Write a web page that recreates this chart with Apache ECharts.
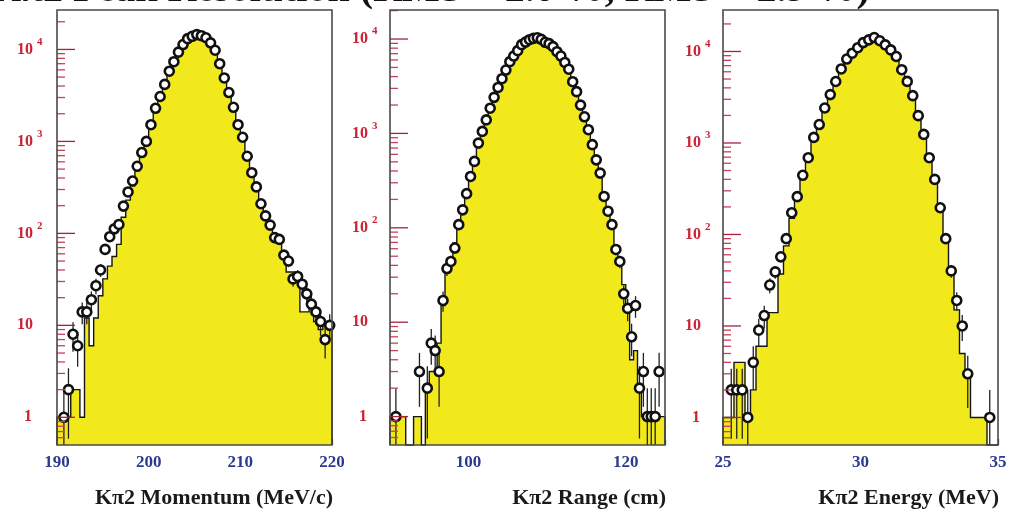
<!DOCTYPE html>
<html><head><meta charset="utf-8">
<script src="https://cdn.jsdelivr.net/npm/echarts@6/dist/echarts.min.js"></script>
<style>html,body{margin:0;padding:0;background:#fff;overflow:hidden}#c{width:1010px;height:512px}</style>
</head><body><div id="c"></div>
<script>
// ---- data ----
const momBinStart = 190, momBinWidth = 0.5;
const momData = [0,1,2,8,6,14,14,19,27,40, 67,92,112,125,198,282,371,537,757,1000, 1520,2290,3080,4170,5800,7360,9350,11300,13100,13900, 14500,14100,13400,11800,9800,7000,4900,3400,2350,1520, 1110,690,457,320,210,155,123,90,86,58, 50,32,34,28,22,17,14,11,7,10];
const momMC = [1,1,1,2,2,1,12,6,12,21, 32,44,56,76,150,230,330,480,700,950, 1400,2100,2900,3900,5400,7000,9000,11000,12600,13500, 13800,13600,12800,11300,9400,7000,5000,3500,2400,1600, 1100,720,470,320,215,160,120,92,80,60, 38,38,35,14,14,17,11,9,10,10];

const rangeBinStart = 90, rangeBinWidth = 0.5;
const rangeData = [0,1,0,0,0,0,0,3,0,2, 6,5,3,17,37,44,61,108,155,230, 350,505,790,1050,1390,1850,2410,3070,3800,4690, 5760,6600,7530,8720,9290,9840,10160,10330,9920,9230, 8930,8300,7340,6600,5650,4790,3530,2770,1995,1500, 1095,760,525,380,215,150,108,59,44,20, 14,7,15,2,3,1,1,1,3,0];
const rangeMC = [1,1,1,1,0,0,1,1,0,2, 3,3,6,15,33,45,69,100,150,230, 340,500,760,1050,1400,1850,2400,3050,3800,4650, 5600,6500,7400,8300,9000,9500,9800,9900,9700,9300, 8800,8100,7300,6400,5500,4600,3600,2750,2000,1480, 1050,740,510,350,220,150,100,62,40,25, 13,4,5,2,1,1,1,1,1,1];

const energyBinStart = 25, energyBinWidth = 0.2;
const energyData = [0,2,2,2,1,4,9,13,28,39, 57,90,173,259,443,690,1150,1590,2410,3380, 4700,6440,8260,9570,11000,12500,13400,14200,13100,11800, 10400,8810,6320,4710,3290,1990,1240,690,400,196, 90,40,19,10,3,0,0,0,1,0];
const energyMC = [1,1,4,4,1,2,6,6,14,14, 37,75,150,240,420,680,1100,1580,2400,3400, 4700,6400,8200,9700,11200,12500,13300,13600,13000,11800, 10300,8600,6500,4700,3300,2050,1250,720,400,200, 95,37,15,5,3,1,1,1,0,0];

const momTickLabels = [190, 200, 210, 220];
const rangeTickLabels = [100, 120];
const energyTickLabels = [25, 30, 35];
const axisTitles = ['K\u03c02 Momentum (MeV/c)', 'K\u03c02 Range (cm)', 'K\u03c02 Energy (MeV)'];
const topTitle = 'K\u03c02 Peak Resolution (RMS = 2.0 %, RMS = 2.9 %)';

// ---- layout / style ----
const panels = [
  {start: momBinStart, width: momBinWidth, data: momData, mc: momMC, xmin: 190, xmax: 220, xint: 10, minorSplit: 5, labels: momTickLabels, ymax: 26850, left: 57, labMargin: 40},
  {start: rangeBinStart, width: rangeBinWidth, data: rangeData, mc: rangeMC, xmin: 90, xmax: 125, xint: 5, minorSplit: 0, labels: rangeTickLabels, ymax: 20300, left: 390, labMargin: 38},
  {start: energyBinStart, width: energyBinWidth, data: energyData, mc: energyMC, xmin: 25, xmax: 35, xint: 5, minorSplit: 5, labels: energyTickLabels, ymax: 28400, left: 723, labMargin: 38}
];
const YMIN = 0.5, TOP = 10, W = 275, H = 435;
const SERIF = '"Liberation Serif","DejaVu Serif",serif';
const RED = '#cc2236', BLUE = '#2b3a8f', YELLOW = '#f2e91d';

const grids = [], xAxes = [], yAxes = [], series = [];
panels.forEach((p, i) => {
  grids.push({left: p.left, top: TOP, width: W, height: H, containLabel: false});
  xAxes.push({
    type: 'value', gridIndex: i, min: p.xmin, max: p.xmax, interval: p.xint,
    axisLine: {show: false}, splitLine: {show: false},
    axisTick: {show: true, inside: true, length: p.minorSplit ? 6 : 5, lineStyle: {color: '#1a1f4a', width: 1.2}},
    minorTick: {show: p.minorSplit > 0, splitNumber: p.minorSplit || 5, length: 3.5, lineStyle: {color: '#1a1f4a', width: 1.1}},
    axisLabel: {
      margin: 9, color: BLUE, fontFamily: SERIF, fontWeight: 'bold', fontSize: 17,
      formatter: v => p.labels.some(l => Math.abs(l - v) < 1e-9) ? String(Math.round(v)) : '',
      showMinLabel: true, showMaxLabel: true, hideOverlap: false
    }
  });
  yAxes.push({
    type: 'log', logBase: 10, gridIndex: i, min: YMIN, max: p.ymax,
    axisLine: {show: false}, splitLine: {show: false}, axisTick: {show: false}, minorTick: {show: false},
    axisLabel: {
      align: 'left', margin: p.labMargin, hideOverlap: false,
      formatter: v => {
        const l = Math.log10(v), e = Math.round(l);
        if (Math.abs(l - e) > 1e-6 || e < 0) return '';
        if (e === 0) return '{one|1}';
        if (e === 1) return '{b|10}';
        return '{b|10 }{s|' + e + '}';
      },
      rich: {
        b: {fontFamily: SERIF, fontWeight: 'bold', fontSize: 16, color: RED, lineHeight: 26},
        one: {fontFamily: SERIF, fontWeight: 'bold', fontSize: 16, color: RED, lineHeight: 26, padding: [0, 0, 0, 7]},
        s: {fontFamily: SERIF, fontWeight: 'bold', fontSize: 11, color: RED, lineHeight: 12, verticalAlign: 'top'}
      }
    }
  });

  const xEnd = p.start + p.width * p.mc.length;
  // histogram (MC) as filled step polygon
  series.push({
    type: 'custom', xAxisIndex: i, yAxisIndex: i, z: 1, silent: true,
    data: [[p.start, YMIN]],
    renderItem: (params, api) => {
      const pts = [api.coord([p.start, YMIN])];
      p.mc.forEach((v, k) => {
        const lo = p.start + k * p.width, hi = lo + p.width;
        const y = v > 0 ? v : YMIN;
        pts.push(api.coord([lo, y]));
        pts.push(api.coord([hi, y]));
      });
      pts.push(api.coord([xEnd, YMIN]));
      return {type: 'group', children: [
        {type: 'polygon', shape: {points: pts}, style: {fill: YELLOW, stroke: null}},
        {type: 'polyline', shape: {points: pts}, style: {fill: null, stroke: '#151515', lineWidth: 1.4}}
      ]};
    }
  });
  // data points
  const pts = [];
  p.data.forEach((v, k) => { if (v > 0) pts.push([p.start + (k + 0.5) * p.width, v]); });
  // error bars (Poisson)
  series.push({
    type: 'custom', xAxisIndex: i, yAxisIndex: i, z: 3, silent: true, data: pts,
    renderItem: (params, api) => {
      const x = api.value(0), n = api.value(1), e = Math.sqrt(n);
      const a = api.coord([x, Math.max(n - e, YMIN)]), b = api.coord([x, Math.min(n + e, p.ymax)]);
      return {type: 'line', shape: {x1: a[0], y1: a[1], x2: b[0], y2: b[1]}, style: {stroke: '#222', lineWidth: 1.3}};
    }
  });
  series.push({
    type: 'scatter', xAxisIndex: i, yAxisIndex: i, z: 4, silent: true, data: pts,
    symbol: 'circle', symbolSize: 9,
    itemStyle: {color: '#ffffff', borderColor: '#111111', borderWidth: 2.6, opacity: 1}
  });
  // log-axis ticks (decades and 2..9 subdivisions)
  const ticks = [];
  for (let d = -1; d <= 5; d++) for (let m = 1; m <= 9; m++) {
    const v = m * Math.pow(10, d);
    if (v > YMIN * 1.0001 && v < p.ymax) ticks.push([p.xmin, v, m === 1 ? 1 : 0]);
  }
  series.push({
    type: 'custom', xAxisIndex: i, yAxisIndex: i, z: 6, silent: true, data: ticks,
    renderItem: (params, api) => {
      const c = api.coord([api.value(0), api.value(1)]);
      const L = api.value(2) ? 18 : 8;
      return {type: 'line', shape: {x1: c[0], y1: c[1], x2: c[0] + L, y2: c[1]},
              style: {stroke: api.value(2) ? '#a8203c' : '#c8405a', lineWidth: 1.3}};
    }
  });
  // frame
  series.push({
    type: 'custom', xAxisIndex: i, yAxisIndex: i, z: 7, silent: true, data: [[p.xmin, YMIN]],
    renderItem: (params) => {
      const cs = params.coordSys;
      return {type: 'rect', shape: {x: cs.x, y: cs.y, width: cs.width, height: cs.height},
              style: {fill: null, stroke: '#4a4a4a', lineWidth: 1.6}};
    }
  });
});

const titles = [
  {text: topTitle, left: -10, top: -29, padding: 0, textStyle: {fontFamily: SERIF, fontWeight: 'bold', fontSize: 40, color: '#111'}}
];
axisTitles.forEach((t, i) => {
  titles.push({text: t, right: 1010 - (panels[i].left + W) - 1, top: 487, padding: 0,
    textStyle: {fontFamily: SERIF, fontWeight: 'bold', fontSize: 22, color: '#1a1a1a'}});
});

const chart = echarts.init(document.getElementById('c'), null, {renderer: 'canvas'});
chart.setOption({
  animation: false,
  backgroundColor: '#ffffff',
  title: titles,
  grid: grids, xAxis: xAxes, yAxis: yAxes, series: series
});
</script>
</body></html>
